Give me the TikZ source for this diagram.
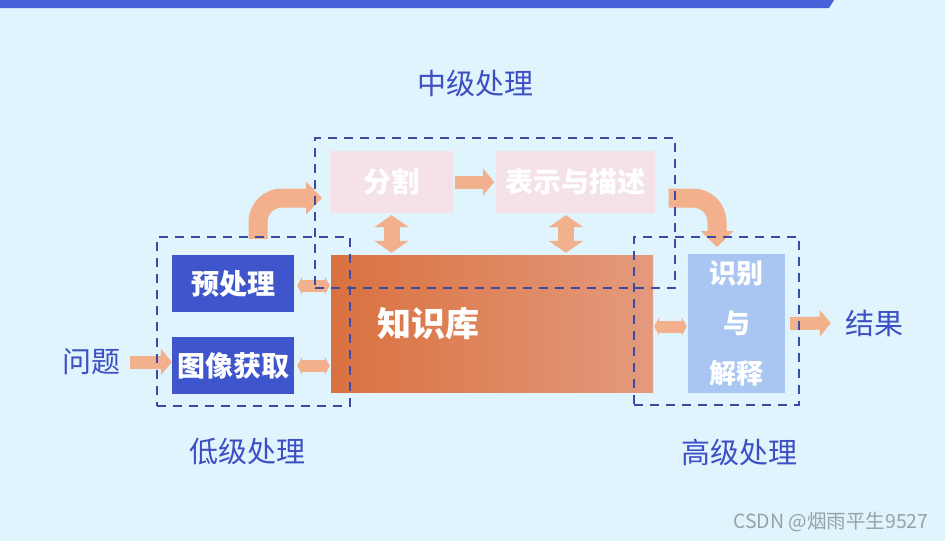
\documentclass[tikz,border=0pt]{standalone}
\usepackage{fontspec}
\setmainfont{Noto Sans CJK SC}
\usepackage{xcolor}
\usetikzlibrary{arrows.meta,positioning}

\definecolor{bgcyan}{HTML}{DFF4FC}
\definecolor{barblue}{HTML}{4660D8}
\definecolor{lowblue}{HTML}{3E55CC}
\definecolor{kbdark}{HTML}{D9713F}
\definecolor{kblight}{HTML}{E49A7E}
\definecolor{midpink}{HTML}{F4E2E8}
\definecolor{recblue}{HTML}{A9C6F2}
\definecolor{lblblue}{HTML}{3D4FC4}
\definecolor{grpline}{HTML}{3A4BA6}
\definecolor{arroworange}{HTML}{F2B08C}
\definecolor{markgrey}{HTML}{98A2A8}

\begin{document}
\begin{tikzpicture}[
    x=1pt, y=-1pt,
    lowbox/.style={fill=lowblue, text=white, inner sep=0pt, minimum width=122pt,
      minimum height=57pt, font=\bfseries\fontsize{28}{34}\selectfont},
    kbbox/.style={left color=kbdark, right color=kblight, text=white, inner ysep=0pt,
      inner xsep=46pt, text width=230pt, align=left, minimum height=137pt,
      font=\bfseries\fontsize{34}{40}\selectfont},
    midbox/.style={fill=midpink, text=white, inner sep=0pt, minimum height=62pt,
      font=\bfseries\fontsize{28}{34}\selectfont},
    recbox/.style={fill=recblue, text=white, inner sep=0pt, align=center,
      minimum width=97pt, minimum height=139pt, font=\bfseries\fontsize{27}{50}\selectfont},
    groupbox/.style={draw=grpline, line width=2pt, dash pattern=on 9pt off 7pt, inner sep=0pt},
    grplabel/.style={text=lblblue, inner sep=0pt, font=\fontsize{29}{34}\selectfont},
    flowarrow/.style={draw=arroworange, line width=13pt, -{Triangle[length=11pt, width=26pt]}},
    duoarrow/.style={draw=arroworange, line width=12pt, {Triangle[length=5pt, width=18pt]}-{Triangle[length=5pt, width=18pt]}},
    vertarrow/.style={draw=arroworange, line width=16pt, {Triangle[length=12pt, width=34pt]}-{Triangle[length=12pt, width=34pt]}},
    bendarrow/.style={draw=arroworange, line width=19pt, rounded corners=24pt, -{Triangle[length=16pt, width=32pt]}}
  ]
    \fill[bgcyan] (0,0) rectangle (945,541);
    \useasboundingbox (0,0) rectangle (945,541);
    \fill[barblue] (0,0) -- (834,0) -- (829,8) -- (0,8) -- cycle;

    \node[lowbox] (pre) at (233,283.5) {预处理};
    \node[lowbox, below=25pt of pre] (acq) {图像获取};
    \node[kbbox] (kb) at (492,323.5) {知识库};
    \node[midbox, minimum width=123pt] (seg) at (391.5,182) {分割};
    \node[midbox, minimum width=159pt, right=43pt of seg] (rep) {表示与描述};
    \node[recbox] (rec) at (736.5,323.5) {识别\\与\\解释};

    \node[grplabel] (prob) at (91,362) {问题};
    \node[grplabel] (res) at (874,323) {结果};
    \node[grplabel] (midlbl) at (475,83) {中级处理};
    \node[grplabel] (lowlbl) at (247,452) {低级处理};
    \node[grplabel] (highlbl) at (739,452) {高级处理};

    \coordinate (segin) at (322,198);
    \coordinate (recin) at (717,247);

    \draw[flowarrow, shorten <=10pt] (prob.east) -- (prob.east -| acq.west);
    \draw[duoarrow, shorten <=3pt, shorten >=1pt] (acq.east) -- (acq.east -| kb.west);
    \draw[duoarrow, shorten <=3pt, shorten >=1pt] ([yshift=-2pt]pre.east) -- ([yshift=-2pt]pre.east -| kb.west);
    \draw[duoarrow, shorten <=1pt, shorten >=1pt] ([yshift=-3pt]kb.east) -- ([yshift=-3pt]kb.east -| rec.west);
    \draw[flowarrow, shorten <=2pt, shorten >=2pt] (seg.east) -- (rep.west);
    \draw[vertarrow, shorten <=2pt, shorten >=2pt] (seg.south) -- (seg.south |- kb.north);
    \draw[vertarrow, shorten <=2pt, shorten >=2pt] ([xshift=-10pt]rep.south) -- ([xshift=-10pt]rep.south |- kb.north);
    \draw[bendarrow] ([xshift=25pt, yshift=16pt]pre.north) |- (segin);
    \draw[bendarrow, shorten <=13pt] ([yshift=-16pt]rep.east) -| (recin);
    \draw[flowarrow, shorten <=5pt, shorten >=14pt] (rec.east) -- (res.west);

    % dashed groups over the boxes
    \node[groupbox, minimum width=360pt, minimum height=150pt] (midgrp) at (495,213) {};
    \node[groupbox, minimum width=193pt, minimum height=169pt] (lowgrp) at (253.5,321.5) {};
    \node[groupbox, minimum width=165pt, minimum height=168pt] (highgrp) at (716.5,321) {};

    \node[text=markgrey, inner sep=0pt, font=\fontsize{19.5}{23}\selectfont] (mark) at (831,522) {CSDN @烟雨平生9527};
  \end{tikzpicture}
\end{document}
